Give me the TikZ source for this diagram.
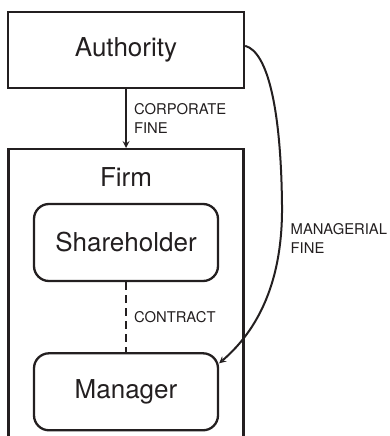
\documentclass[tikz,border=0pt]{standalone}
\usepackage{fontspec}
\setmainfont{TeX Gyre Heros}
\usepackage{tikz}
\usetikzlibrary{arrows,shapes,positioning}
\usepackage{xcolor}
\definecolor{inkblack}{RGB}{35,31,32}
\tikzstyle{arrow} = [line width=2pt,->,>=stealth,color=inkblack]
\tikzstyle{outerbox} = [rectangle, draw=inkblack, line width=2.3pt, text=inkblack, text centered, font=\fontsize{26}{30}\selectfont]
\tikzstyle{party} = [rectangle, rounded corners=15pt, minimum width=184pt, minimum height=77pt, draw=inkblack, line width=2.3pt, text=inkblack, text centered, font=\fontsize{26}{30}\selectfont]
\tikzstyle{flowlabel} = [align=left, text=inkblack, inner sep=0pt, font=\fontsize{14.8}{19.5}\selectfont]

\begin{document}
\begin{tikzpicture}[x=1pt,y=-1pt]
\useasboundingbox (0,0) rectangle (389,436);
% Authority and the firm
\node (authority) [outerbox, minimum width=236pt, minimum height=76pt] at (126,50) {Authority};
\node (firm) [outerbox, minimum width=235pt, minimum height=330pt, anchor=north] at (126,148) {};
\node (firmlabel) [text=inkblack, font=\fontsize{26}{30}\selectfont] at (126,177) {Firm};

% Inside the firm
\node (shareholder) [party] at (126,242.5) {Shareholder};
\node (manager) [party, below=70pt of shareholder] {Manager};

\draw[arrow] (authority) -- node[flowlabel, right=7pt] {CORPORATE\\FINE} (firm);
\draw[line width=2pt, inkblack, dash pattern=on 8pt off 5pt] (shareholder) -- node[flowlabel, right=7pt] {CONTRACT} (manager);

% Fine on the manager
\draw[arrow] (authority.2.5) .. controls (268,52) and (281,110) .. (282,205) .. controls (283,290) and (252,335) .. (manager.17);
\node (mflabel) [flowlabel, anchor=west] at (290.5,238.5) {MANAGERIAL\\FINE};
\end{tikzpicture}
\end{document}
